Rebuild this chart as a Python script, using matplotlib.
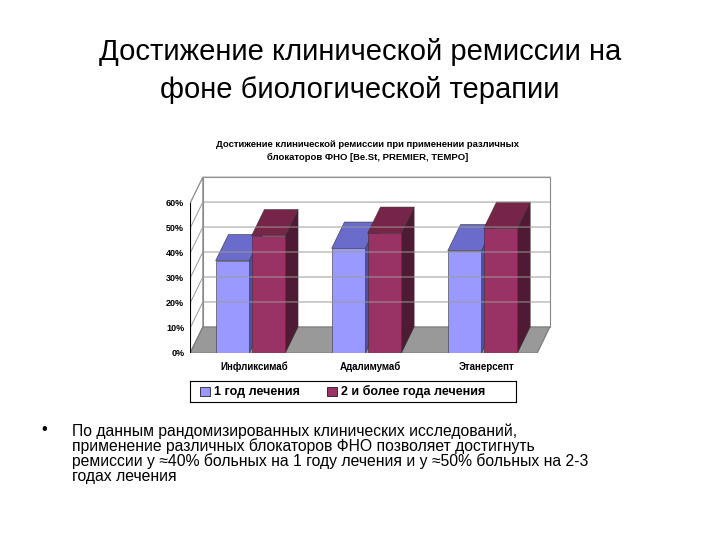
import matplotlib.pyplot as plt
from matplotlib.patches import Polygon, Rectangle

plt.rcParams['font.family'] = ['Liberation Sans', 'DejaVu Sans']

categories = ['Инфликсимаб', 'Адалимумаб', 'Этанерсепт']
year1 = [0.37, 0.42, 0.41]
year2 = [0.47, 0.48, 0.50]
series_names = ['1 год лечения', '2 и более года лечения']
yticks = [0, 0.1, 0.2, 0.3, 0.4, 0.5, 0.6]

DX, DY = 0.11, 0.105   # depth offset in data units
W = 0.29

fig = plt.figure(figsize=(7.2, 5.4), dpi=100)
fig.text(0.5, 0.868, 'Достижение клинической ремиссии на\nфоне биологической терапии',
         ha='center', va='center', fontsize=21, linespacing=1.45)

ax = fig.add_axes([0.264, 0.346, 0.503, 0.333])
ax.set_xlim(-0.52, 2.6)
ax.set_ylim(0, 0.72)
ax.axis('off')

x0, x1 = -0.52, 2.47
# back wall
ax.add_patch(Rectangle((x0 + DX, DY), x1 - x0, 0.6, facecolor='white', edgecolor='#888888', lw=0.8))
# left wall
ax.add_patch(Polygon([(x0, 0), (x0 + DX, DY), (x0 + DX, 0.6 + DY), (x0, 0.6)],
                     facecolor='white', edgecolor='#888888', lw=0.8))
for t in yticks[1:]:
    ax.plot([x0, x0 + DX, x1 + DX], [t, t + DY, t + DY], color='#999999', lw=0.7)
# floor
ax.add_patch(Polygon([(x0, 0), (x1, 0), (x1 + DX, DY), (x0 + DX, DY)],
                     facecolor='#999999', edgecolor='#777777', lw=0.8))
ax.plot([x0, x0], [0, 0.6], color='black', lw=0.8)
for t in yticks:
    ax.plot([x0 - 0.03, x0], [t, t], color='black', lw=0.8)
    ax.text(x0 - 0.05, t, f'{int(round(t * 100))}%', ha='right', va='center',
            fontsize=6.5, fontweight='bold')


def bar3d(x, h, front, top, side):
    ax.add_patch(Polygon([(x + W, 0), (x + W + DX, DY), (x + W + DX, h + DY), (x + W, h)],
                         facecolor=side, edgecolor='#333333', lw=0.4))
    ax.add_patch(Polygon([(x, h), (x + W, h), (x + W + DX, h + DY), (x + DX, h + DY)],
                         facecolor=top, edgecolor='#333333', lw=0.4))
    ax.add_patch(Rectangle((x, 0), W, h, facecolor=front, edgecolor='#333333', lw=0.4))


for i, (a, b) in enumerate(zip(year1, year2)):
    bar3d(i - W - 0.01, a, '#9999FF', '#6B6BCC', '#5050A0')
    bar3d(i + 0.01, b, '#993366', '#772449', '#4F1A33')
    ax.text(i + 0.03, -0.035, categories[i], ha='center', va='top', fontsize=7, fontweight='bold')

fig.text(0.51, 0.72, 'Достижение клинической ремиссии при применении различных\n'
         'блокаторов ФНО [Be.St, PREMIER, TEMPO]', ha='center', va='center',
         fontsize=6.8, fontweight='bold', linespacing=1.5)

# legend
lax = fig.add_axes([0.264, 0.255, 0.452, 0.04])
lax.set_xlim(0, 1)
lax.set_ylim(0, 1)
lax.set_xticks([])
lax.set_yticks([])
lax.add_patch(Rectangle((0.03, 0.3), 0.03, 0.4, facecolor='#9999FF', edgecolor='black', lw=0.5))
lax.text(0.075, 0.5, series_names[0], va='center', fontsize=9, fontweight='bold')
lax.add_patch(Rectangle((0.42, 0.3), 0.03, 0.4, facecolor='#993366', edgecolor='black', lw=0.5))
lax.text(0.465, 0.5, series_names[1], va='center', fontsize=9, fontweight='bold')

fig.text(0.058, 0.205, '•', fontsize=12, va='center')
fig.text(0.1, 0.16, 'По данным рандомизированных клинических исследований,\n'
         'применение различных блокаторов ФНО позволяет достигнуть\n'
         'ремиссии у ≈40% больных на 1 году лечения и у ≈50% больных на 2-3\n'
         'годах лечения', fontsize=11.3, va='center', linespacing=0.95)

fig.savefig('out.png', dpi=100)
